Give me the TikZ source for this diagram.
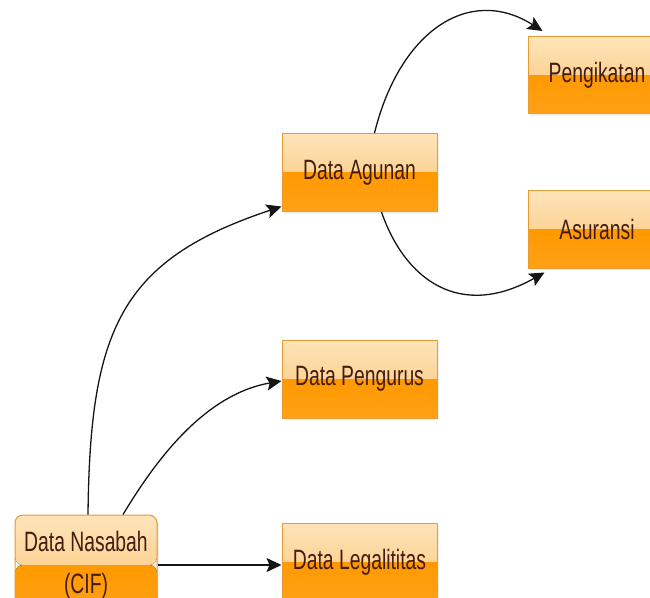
\documentclass[tikz,border=0pt]{standalone}
\usepackage{fontspec}
\newfontfamily\boxfont[FakeStretch=0.69]{Liberation Sans}
\usetikzlibrary{arrows.meta,shadows}
\definecolor{boxline}{HTML}{E99A30}
\definecolor{lta}{HTML}{FEE4BA}
\definecolor{ltb}{HTML}{FBC472}
\definecolor{dka}{HTML}{FF9900}
\definecolor{dkb}{HTML}{FFA116}
\definecolor{txt}{HTML}{451C10}
\definecolor{arr}{HTML}{151515}
\tikzset{
  box/.style={draw=boxline, line width=1pt, minimum width=155pt, minimum height=78pt,
    inner sep=0pt, text=txt, align=center,
    font={\boxfont\fontsize{28}{40}\selectfont},
    drop shadow={opacity=0.12, shadow xshift=2pt, shadow yshift=-2pt},
    path picture={
      \fill[top color=lta, bottom color=ltb] (path picture bounding box.north west) rectangle (path picture bounding box.east);
      \fill[top color=dka, bottom color=dkb] (path picture bounding box.west) rectangle (path picture bounding box.south east);
    }},
  conn/.style={draw=arr, line width=1.3pt, -{Stealth[length=15pt,width=14pt,inset=3pt]}},
}
\begin{document}
\begin{tikzpicture}[x=1pt,y=-1pt]
\useasboundingbox (0,0) rectangle (650,597);
\node[box] (agunan) at (359.5,172.5) {\raisebox{-2pt}{Data Agunan}};
\node[box] (pengurus) at (359.5,379) {\raisebox{-2pt}{Data Pengurus}};
\node[box] (legalitas) at (359.5,562) {\raisebox{-2pt}{Data Legalititas}};
\node[box, minimum width=138pt, minimum height=77pt] (pengikatan) at (597,75) {\raisebox{-2pt}{Pengikatan}};
\node[box, minimum width=138pt] (asuransi) at (597,229) {\raisebox{-2pt}{Asuransi}};
\node[box, minimum width=142pt, minimum height=100pt, rounded corners=8pt] (nasabah) at (86,565) {\raisebox{-8pt}{Data Nasabah}\\\raisebox{-10pt}{(CIF)}};

\draw[conn] ([xshift=2pt]nasabah.north) .. controls (90,330) and (120,260) .. ([yshift=-34pt]agunan.west);
\draw[conn] ([xshift=37pt]nasabah.north) .. controls (150,470) and (200,395) .. ([yshift=-2pt]pengurus.west);
\draw[conn] (nasabah.east) -- (nasabah.east -| legalitas.west);
\draw[conn] ([xshift=15pt]agunan.north) .. controls (400,30) and (470,-15) .. ([xshift=15pt,yshift=5pt]pengikatan.north west);
\draw[conn] ([xshift=22pt]agunan.south) .. controls (405,280) and (460,320) .. ([xshift=17pt,yshift=-4pt]asuransi.south west);
\end{tikzpicture}
\end{document}
